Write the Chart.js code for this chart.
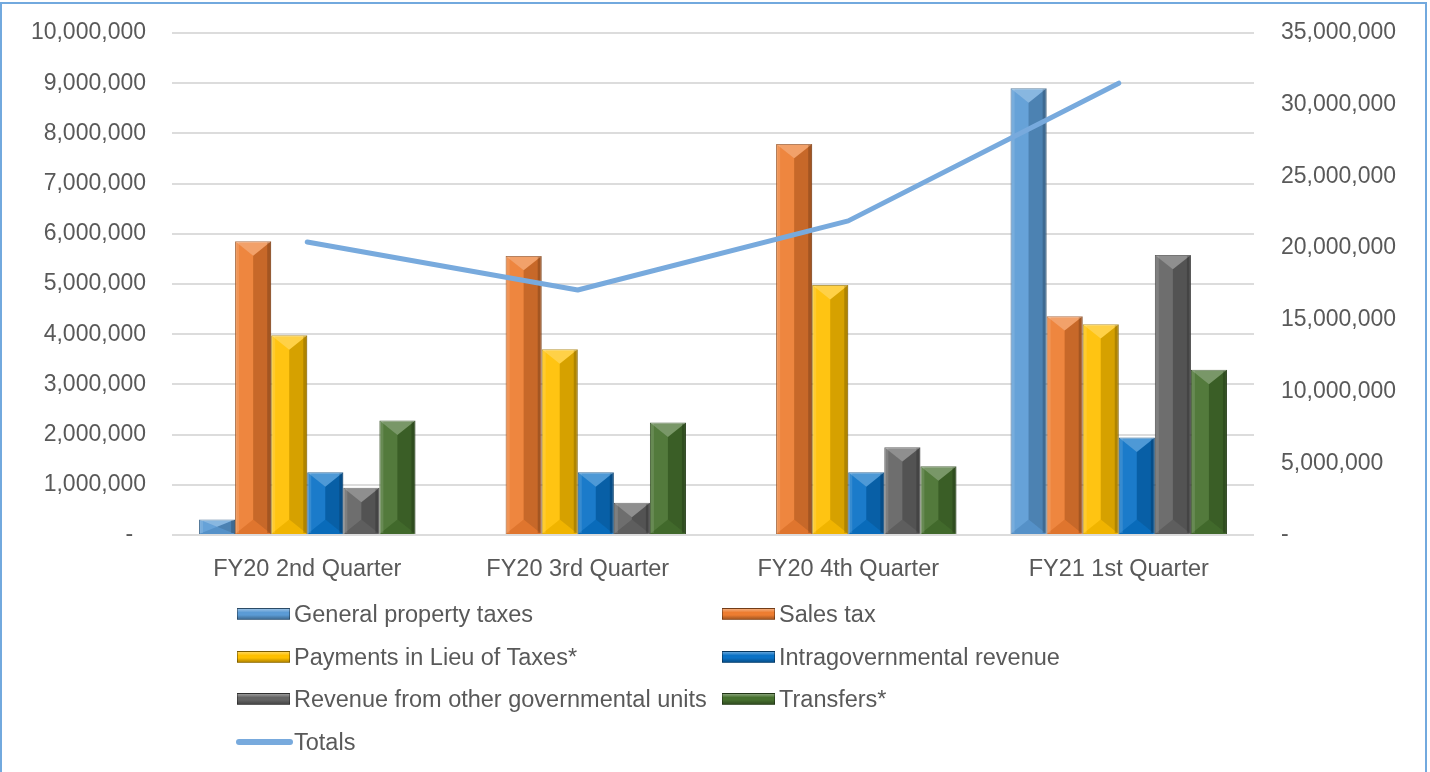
<!DOCTYPE html>
<html>
<head>
<meta charset="utf-8">
<script src="https://cdn.jsdelivr.net/npm/chart.js@4/dist/chart.umd.min.js"></script>
<style>
    html, body { margin: 0; padding: 0; background: #fff; overflow: hidden; }
    #frame {
        position: absolute; left: 0; top: 2px; width: 1427px; height: 820px;
        box-sizing: border-box; border: 2px solid #72a9de;
    }
    #chart { position: absolute; left: 0; top: 0; }
    #legend {
        position: absolute; left: 0; top: 0; width: 1430px; height: 772px;
        font-family: "Liberation Sans", Arial, sans-serif; font-size: 23.5px; color: #595959;
        pointer-events: none;
    }
    .lg-item { position: absolute; height: 28px; line-height: 28px; white-space: nowrap; }
    .lg-box {
        position: absolute; left: 0; top: 8px; width: 53px; height: 12px;
        box-sizing: border-box; border: 1px solid rgba(0,0,0,0.35);
    }
    .lg-line {
        position: absolute; left: -1px; top: 11px; width: 57px; height: 6px; border-radius: 3px;
    }
    .lg-text { position: absolute; left: 57px; top: 0; }
</style>
</head>
<body>
<div id="frame"></div>
<canvas id="chart" width="1430" height="772"></canvas>
<div id="legend"></div>
<script>
// ============================================================
// Quarterly revenue by source, with totals on the right axis
// ============================================================

const quarters = ["FY20 2nd Quarter", "FY20 3rd Quarter", "FY20 4th Quarter", "FY21 1st Quarter"];

const propertyTaxes   = [310000, -20000, -20000, 8900000];
const salesTax        = [5850000, 5560000, 7790000, 4360000];
const paymentsInLieu  = [3980000, 3700000, 4980000, 4200000];
const intragovRevenue = [1250000, 1250000, 1250000, 1940000];
const otherGovRevenue = [940000, 640000, 1750000, 5580000];
const transfers       = [2280000, 2240000, 1370000, 3290000];
const totals          = [20430000, 17080000, 21900000, 31500000];

const seriesNames = [
    "General property taxes", "Sales tax",
    "Payments in Lieu of Taxes*", "Intragovernmental revenue",
    "Revenue from other governmental units", "Transfers*",
    "Totals"
];
const barColors = ["#5b9bd5", "#ed7d31", "#ffc000", "#0a72c6", "#646464", "#46702e"];
const lineColor = "#78aadd";

const FONT = "'Liberation Sans', Arial, sans-serif";
const TICK_COLOR = "#595959";

function fmt(v) {
    return v === 0 ? "-  " : v.toLocaleString("en-US");
}

function shade(hex, amt) {
    const n = parseInt(hex.slice(1), 16);
    let r = (n >> 16) & 255, g = (n >> 8) & 255, b = n & 255;
    const f = c => Math.max(0, Math.min(255, Math.round(amt < 0 ? c * (1 + amt) : c + (255 - c) * amt)));
    return `rgb(${f(r)}, ${f(g)}, ${f(b)})`;
}

// bevel shading drawn on top of each bar, right after its dataset
const bevelPlugin = {
    id: "bevel",
    afterDatasetDraw(chart, args) {
        const meta = args.meta;
        if (meta.type !== "bar") return;
        const ctx = chart.ctx;
        ctx.save();
        meta.data.forEach(bar => {
            const p = bar.getProps(["x", "y", "base", "width"], true);
            const x0 = p.x - p.width / 2, x1 = p.x + p.width / 2, xc = p.x;
            const top = Math.min(p.y, p.base), bot = Math.max(p.y, p.base);
            const h = bot - top;
            if (h < 3) return;
            const d = Math.min(p.width * 0.4, h / 2);
            const poly = (pts, fill) => {
                ctx.beginPath();
                ctx.moveTo(pts[0][0], pts[0][1]);
                for (let i = 1; i < pts.length; i++) ctx.lineTo(pts[i][0], pts[i][1]);
                ctx.closePath();
                ctx.fillStyle = fill;
                ctx.fill();
            };
            poly([[x0, top], [xc, top + d], [xc, bot - d], [x0, bot]], "rgba(255,255,255,0.07)");
            poly([[x1, top], [xc, top + d], [xc, bot - d], [x1, bot]], "rgba(0,0,0,0.16)");
            poly([[x0, top], [x1, top], [xc, top + d]], "rgba(255,255,255,0.28)");
            poly([[x0, bot], [x1, bot], [xc, bot - d]], "rgba(0,0,0,0.06)");
            ctx.fillStyle = "rgba(255,255,255,0.12)";
            ctx.fillRect(x0 + 1, top + 1, 3, h - 2);
            ctx.fillStyle = "rgba(0,0,0,0.18)";
            ctx.fillRect(x1 - 4, top + 1, 3, h - 2);
        });
        ctx.restore();
    }
};

const barSeries = [propertyTaxes, salesTax, paymentsInLieu, intragovRevenue, otherGovRevenue, transfers];

const datasets = barSeries.map((data, i) => ({
    type: "bar",
    label: seriesNames[i],
    data,
    yAxisID: "y",
    order: 1,
    backgroundColor: barColors[i],
    borderColor: shade(barColors[i], -0.35),
    borderWidth: 1,
    categoryPercentage: 0.8,
    barPercentage: 1.0
}));

datasets.push({
    type: "line",
    label: seriesNames[6],
    data: totals,
    yAxisID: "y2",
    order: 0,
    borderColor: lineColor,
    borderWidth: 5,
    borderCapStyle: "round",
    borderJoinStyle: "round",
    pointRadius: 0,
    tension: 0
});

function fixVertical(width) {
    return scale => {
        scale.width = width;
        scale.paddingTop = 0;
        scale.paddingBottom = 0;
    };
}

const chart = new Chart(document.getElementById("chart").getContext("2d"), {
    data: { labels: quarters, datasets },
    plugins: [bevelPlugin],
    options: {
        responsive: false,
        animation: false,
        devicePixelRatio: 1,
        layout: { padding: { top: 33, bottom: 177, left: 0, right: 0 } },
        plugins: {
            legend: { display: false },
            title: { display: false },
            tooltip: { enabled: false }
        },
        scales: {
            x: {
                grid: { display: false },
                border: { display: false },
                ticks: { color: TICK_COLOR, font: { family: FONT, size: 23.5 }, padding: 12, maxRotation: 0 },
                afterFit(scale) { scale.height = 60; }
            },
            y: {
                position: "left",
                min: 0, max: 10000000,
                border: { display: false },
                grid: { color: "#dcdcdc", lineWidth: 2, drawTicks: false },
                ticks: {
                    stepSize: 1000000, padding: 26, color: TICK_COLOR,
                    font: { family: FONT, size: 23 },
                    callback: v => fmt(v)
                },
                afterFit: fixVertical(172)
            },
            y2: {
                position: "right",
                min: 0, max: 35000000,
                border: { display: false },
                grid: { display: false, drawTicks: false },
                ticks: {
                    stepSize: 5000000, padding: 27, color: TICK_COLOR,
                    font: { family: FONT, size: 23 },
                    callback: v => fmt(v)
                },
                afterFit: fixVertical(176)
            }
        }
    }
});

// HTML legend built from the chart's datasets, two columns like the original
function buildLegend() {
    const el = document.getElementById("legend");
    const colX = [237, 722];
    const rowY = [600, 643, 685, 728];
    chart.data.datasets.forEach((ds, i) => {
        const item = document.createElement("div");
        item.className = "lg-item";
        item.style.left = colX[i % 2] + "px";
        item.style.top = rowY[Math.floor(i / 2)] + "px";
        const mark = document.createElement("div");
        if (ds.type === "line") {
            mark.className = "lg-line";
            mark.style.background = ds.borderColor;
        } else {
            mark.className = "lg-box";
            const c = ds.backgroundColor;
            mark.style.background =
                `linear-gradient(to bottom, ${shade(c, 0.35)} 0%, ${c} 35%, ${c} 60%, ${shade(c, -0.3)} 100%)`;
        }
        const txt = document.createElement("span");
        txt.className = "lg-text";
        txt.textContent = ds.label;
        item.appendChild(mark);
        item.appendChild(txt);
        el.appendChild(item);
    });
}
buildLegend();
</script>
</body>
</html>
